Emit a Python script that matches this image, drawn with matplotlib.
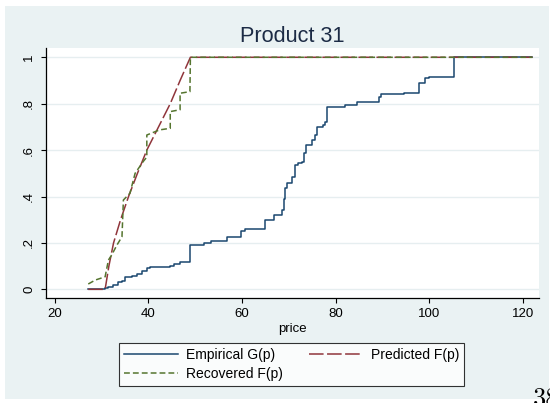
import matplotlib
matplotlib.use("Agg")
import matplotlib.pyplot as plt
from matplotlib.patches import Rectangle

plt.rcParams['font.family'] = ['Liberation Sans', 'DejaVu Sans']
plt.rcParams['lines.scale_dashes'] = False

# empirical G(p): step points (price where the step happens, new value)
emp_price = [27.2, 30.8, 31.5, 32.5, 33.6, 34.4, 35.1, 36.5, 37.6, 38.6, 39.7, 40.3,
             44.7, 45.6, 46.8, 49.0, 51.8, 53.3, 56.8, 59.7, 60.7, 65.0, 66.8, 68.6,
             68.9, 69.2, 69.7, 70.7, 71.4, 72.0, 72.9, 73.2, 73.6, 75.0, 75.7, 76.1,
             77.2, 77.7, 78.2, 82.1, 84.6, 89.3, 89.6, 94.6, 97.8, 99.0, 100.0, 105.2, 122.0]
emp_cdf = [0.0, 0.005, 0.012, 0.02, 0.03, 0.035, 0.053, 0.058, 0.068, 0.078, 0.09, 0.095,
           0.1, 0.108, 0.118, 0.19, 0.198, 0.21, 0.224, 0.25, 0.262, 0.3, 0.32, 0.34,
           0.39, 0.435, 0.457, 0.485, 0.536, 0.545, 0.55, 0.586, 0.622, 0.643, 0.665, 0.698,
           0.708, 0.722, 0.787, 0.794, 0.809, 0.83, 0.84, 0.848, 0.888, 0.91, 0.916, 1.0, 1.0]

# predicted F(p)
pred_price = [27.2, 30.8, 31.6, 32.6, 34.1, 35.8, 37.7, 39.7, 42.2, 44.7, 46.8, 49.0, 122.0]
pred_cdf = [0.0, 0.0, 0.1, 0.2, 0.3, 0.4, 0.5, 0.6, 0.7, 0.8, 0.9, 1.0, 1.0]

# recovered F(p)
rec_price = [27.2, 28.7, 30.8, 31.5, 32.2, 33.3, 34.4, 34.7, 36.1, 37.2, 38.9, 39.7, 39.7,
             42.4, 44.7, 44.7, 46.8, 46.8, 48.9, 49.0, 122.0]
rec_cdf = [0.023, 0.04, 0.054, 0.126, 0.148, 0.19, 0.227, 0.385, 0.414, 0.5, 0.55, 0.57, 0.665,
           0.687, 0.694, 0.766, 0.774, 0.845, 0.852, 1.0, 1.0]

xticks = [20, 40, 60, 80, 100, 120]
yticks = [0, .2, .4, .6, .8, 1]
ylabels = ['0', '.2', '.4', '.6', '.8', '1']

fig = plt.figure(figsize=(5.5, 4.03), dpi=100)
fig.patch.set_facecolor('white')
fig.add_artist(Rectangle((5 / 550, 4 / 403), 544 / 550, 393 / 403, transform=fig.transFigure,
                         facecolor='#EAF2F3', edgecolor='none', zorder=-10))

ax = fig.add_axes([0.0831, 0.2613, 0.8969, 0.6196])
ax.set_facecolor('white')

l_emp, = ax.plot(emp_price, emp_cdf, drawstyle='steps-post', color='#1A476F', lw=1.1,
                 label='Empirical G(p)')
l_pred, = ax.plot(pred_price, pred_cdf, color='#90353B', lw=1.1, dashes=(10.5, 2.5),
                  label='Predicted F(p)')
l_rec, = ax.plot(rec_price, rec_cdf, color='#55752F', lw=1.1, dashes=(4.2, 2.2),
                 label='Recovered F(p)')

ax.set_xlim(18.12, 123.4)
ax.set_ylim(-0.036, 1.040)
ax.set_xticks(xticks)
ax.set_yticks(yticks)
ax.set_yticklabels(ylabels, rotation=90, va='center')
ax.tick_params(axis='both', length=3.6, width=0.8, labelsize=9.5, colors='black', pad=4)
ax.yaxis.grid(True, color='#E6EEF0', lw=1.0)
ax.set_axisbelow(True)
for s in ['top', 'right']:
    ax.spines[s].set_visible(False)
for s in ['left', 'bottom']:
    ax.spines[s].set_linewidth(0.9)
    ax.spines[s].set_color('black')
ax.set_xlabel('price', fontsize=9.5, labelpad=2)

fig.text(292 / 550, (403 - 41.7) / 403, 'Product 31', ha='center', va='baseline',
         fontsize=15.6, color='#1C2B45')

leg = fig.legend(handles=[l_emp, l_rec, l_pred], ncol=2, loc='center',
                 bbox_to_anchor=(291.5 / 550, 1 - 364.5 / 403), fontsize=10,
                 frameon=True, fancybox=False, edgecolor='black', handlelength=3.9,
                 columnspacing=1.9, handletextpad=0.55, labelspacing=0.35, borderpad=0.35,
                 borderaxespad=0)
leg.get_frame().set_linewidth(0.8)
leg.get_frame().set_facecolor('white')

# page number of the source document, cut off at the bottom edge
fig.text(533 / 550, -0.006, '38', family='cmr10', fontsize=19, ha='left', va='baseline')

fig.savefig('out.png', dpi=100)
